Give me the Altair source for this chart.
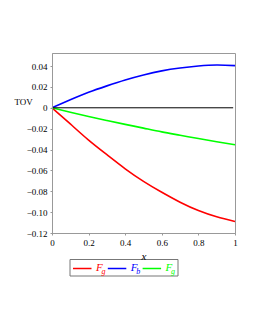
import altair as alt
import pandas as pd

x_vals = [0.0, 0.1, 0.2, 0.3, 0.4, 0.5, 0.6, 0.7, 0.8, 0.9, 1.0]
red_vals = [0.0, -0.0155, -0.031, -0.045, -0.0585, -0.0705, -0.081, -0.0905, -0.0985, -0.1045, -0.109]
blue_vals = [0.0, 0.0076, 0.0148, 0.0210, 0.0267, 0.0315, 0.0354, 0.0381, 0.0400, 0.0410, 0.0404]
green_vals = [0.0, -0.0043, -0.0084, -0.0122, -0.0159, -0.0195, -0.0231, -0.0263, -0.0295, -0.0325, -0.0354]

series_names = ["Fg_red", "Fb_blue", "Fg_green"]
series_colors = ["#ff0000", "#0000ff", "#00ff00"]
legend_subs = ["g", "b", "g"]
y_ticks = [-0.12, -0.10, -0.08, -0.06, -0.04, -0.02, 0, 0.02, 0.04]
x_ticks = [0, 0.2, 0.4, 0.6, 0.8, 1]

rows = []
for name, vals in zip(series_names, [red_vals, blue_vals, green_vals]):
    for xv, yv in zip(x_vals, vals):
        rows.append({"x": xv, "y": yv, "series": name})
df = pd.DataFrame(rows)

FONT = "Liberation Serif"

xscale = alt.Scale(domain=[0, 1], nice=False)
yscale = alt.Scale(domain=[-0.12, 0.0525], nice=False)

xaxis = alt.Axis(values=x_ticks, title="x", titleFontStyle="italic",
                 titleFont=FONT, titleFontSize=11, titleFontWeight="normal",
                 titlePadding=3, labelOverlap=False, labelFlush=False,
                 labelExpr="format(datum.value, '~g')", labelFont=FONT,
                 labelFontSize=9, labelPadding=3, tickSize=2, zindex=1,
                 tickColor="#999999", domainColor="#999999", grid=False)
yaxis = alt.Axis(values=y_ticks, title="TOV", titleAngle=0,
                 titleFont=FONT, titleFontSize=9, titleFontWeight="normal",
                 titleX=-38, titleY=48, titleAlign="left", titleBaseline="middle",
                 labelOverlap=False, labelFlush=False,
                 labelExpr="datum.value == 0 ? '0' : replace(format(datum.value, '.2f'), '-', '\u2212')",
                 labelFont=FONT, labelFontSize=9, labelPadding=3, tickSize=2, zindex=1,
                 tickColor="#999999", domainColor="#999999", grid=False)

lines = alt.Chart(df).mark_line(strokeWidth=1.6, interpolate="natural").encode(
    x=alt.X("x:Q", scale=xscale, axis=xaxis),
    y=alt.Y("y:Q", scale=yscale, axis=yaxis),
    color=alt.Color("series:N", scale=alt.Scale(domain=series_names, range=series_colors), legend=None),
)

zero = alt.Chart(alt.Data(values=[{"a": 1}])).mark_rule(color="black", strokeWidth=1).encode(
    x=alt.XDatum(0, scale=xscale, axis=xaxis), x2=alt.datum(0.99),
    y=alt.YDatum(0, scale=yscale, axis=yaxis)
)

layers = [lines, zero]

one = alt.Data(values=[{"a": 1}])
# legend box
layers.append(alt.Chart(one).mark_rect(fillOpacity=0, stroke="#777777", strokeWidth=1).encode(
    x=alt.value(18), x2=alt.value(126), y=alt.value(206.5), y2=alt.value(223)))
for i, (col, sub) in enumerate(zip(series_colors, legend_subs)):
    x0 = 21 + i * 34.8
    layers.append(alt.Chart(one).mark_rule(color=col, strokeWidth=1.5).encode(
        x=alt.value(x0), x2=alt.value(x0 + 18.5), y=alt.value(215.5)))
    layers.append(alt.Chart(one).mark_text(text="F", color=col, font=FONT, fontSize=11,
                                           fontStyle="italic", align="left", baseline="middle").encode(
        x=alt.value(x0 + 23), y=alt.value(214.5)))
    layers.append(alt.Chart(one).mark_text(text=sub, color=col, font=FONT, fontSize=8,
                                           fontStyle="italic", align="left", baseline="middle").encode(
        x=alt.value(x0 + 28.5), y=alt.value(219)))

chart = alt.layer(*layers).properties(
    width=183, height=180,
    autosize=alt.AutoSizeParams(type="none"),
    padding={"left": 44, "top": 45, "right": 4, "bottom": 60},
).configure_view(stroke="#999999", strokeWidth=1).configure_axis(labelOverlap=False)

chart.save("out.html", embed_options={"renderer": "svg", "actions": False})
